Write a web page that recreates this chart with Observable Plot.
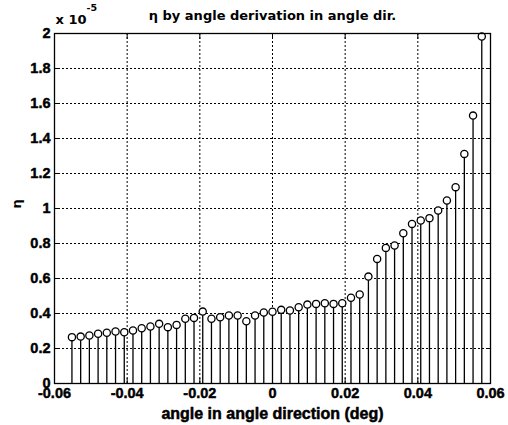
<!DOCTYPE html>
<html><head><meta charset="utf-8">
<script src="https://cdn.jsdelivr.net/npm/d3@7"></script>
<script src="https://cdn.jsdelivr.net/npm/@observablehq/plot@0.6"></script>
<style>
body{margin:0;background:#fff}
#chart svg{background:#fff}
</style>
</head><body><div id="chart"></div>
<script>
// angle in angle direction (deg)
const angles = [-0.0552, -0.0528, -0.0504, -0.0480, -0.0456, -0.0432, -0.0408, -0.0384,
  -0.0360, -0.0336, -0.0312, -0.0288, -0.0264, -0.0240, -0.0216, -0.0192,
  -0.0168, -0.0144, -0.0120, -0.0096, -0.0072, -0.0048, -0.0024, 0.0000,
  0.0024, 0.0048, 0.0072, 0.0096, 0.0120, 0.0144, 0.0168, 0.0192,
  0.0216, 0.0240, 0.0264, 0.0288, 0.0312, 0.0336, 0.0360, 0.0384,
  0.0408, 0.0432, 0.0456, 0.0480, 0.0504, 0.0528, 0.0552, 0.0576];
// eta, in units of 1e-5
const eta = [0.265, 0.268, 0.274, 0.284, 0.290, 0.297, 0.293, 0.303,
  0.316, 0.326, 0.341, 0.322, 0.335, 0.370, 0.375, 0.411,
  0.370, 0.379, 0.389, 0.389, 0.356, 0.389, 0.406, 0.410,
  0.421, 0.417, 0.436, 0.451, 0.455, 0.459, 0.455, 0.459,
  0.490, 0.509, 0.611, 0.712, 0.775, 0.789, 0.859, 0.912,
  0.931, 0.945, 0.989, 1.046, 1.122, 1.312, 1.531, 1.983];
const xTicks = [-0.06, -0.04, -0.02, 0, 0.02, 0.04, 0.06];
const xTickLabels = ["-0.06", "-0.04", "-0.02", "0", "0.02", "0.04", "0.06"];
const yTicks = [0, 0.2, 0.4, 0.6, 0.8, 1, 1.2, 1.4, 1.6, 1.8, 2];
const yTickLabels = ["0", "0.2", "0.4", "0.6", "0.8", "1", "1.2", "1.4", "1.6", "1.8", "2"];
const titleText = "\u03b7 by angle derivation in angle dir.";
const xLabelText = "angle in angle direction (deg)";
const yLabelText = "\u03b7";
const exponentBase = "x 10";
const exponentText = "-5";

const data = angles.map((a, i) => ({angle: a, eta: eta[i]}));

const tickFont = {fontFamily: "Liberation Sans, Arial, sans-serif", fontWeight: "bold", fontSize: 14.5, fill: "black"};
const labelFont = {fontFamily: "DejaVu Sans, sans-serif", fontWeight: "bold", fill: "black"};

const plot = Plot.plot({
  width: 508,
  height: 425,
  marginLeft: 54,
  marginRight: 18,
  marginTop: 33,
  marginBottom: 42,
  style: {background: "#fff", color: "black"},
  x: {domain: [-0.06, 0.06]},
  y: {domain: [0, 2]},
  marks: [
    Plot.gridX(xTicks.slice(1, -1), {stroke: "black", strokeOpacity: 1, strokeWidth: 1, strokeDasharray: "2,2"}),
    Plot.gridY(yTicks.slice(1, -1), {stroke: "black", strokeOpacity: 1, strokeWidth: 1, strokeDasharray: "2,2"}),
    Plot.ruleX(data, {x: "angle", y1: 0, y2: "eta", stroke: "black", strokeWidth: 1.3}),
    Plot.dot(data, {x: "angle", y: "eta", r: 3.6, stroke: "black", fill: "white", strokeWidth: 1.3}),
    Plot.frame({stroke: "black", strokeWidth: 1.3}),
    Plot.axisX(xTicks, {anchor: "bottom", tickSize: -5, tickPadding: 9, label: null,
      tickFormat: (d, i) => xTickLabels[i], ...tickFont}),
    Plot.axisX(xTicks, {anchor: "top", tickSize: -5, label: null, tickFormat: () => ""}),
    Plot.axisY(yTicks, {anchor: "left", tickSize: -5, tickPadding: 9, label: null,
      tickFormat: (d, i) => yTickLabels[i], ...tickFont}),
    Plot.axisY(yTicks, {anchor: "right", tickSize: -5, label: null, tickFormat: () => ""}),
    Plot.text([titleText], {text: d => d, frameAnchor: "top", lineAnchor: "middle", dy: -18, fontSize: 13, ...labelFont}),
    Plot.text([exponentBase], {text: d => d, frameAnchor: "top-left", textAnchor: "start", lineAnchor: "middle", dx: 1, dy: -14, fontSize: 13, ...labelFont}),
    Plot.text([exponentText], {text: d => d, frameAnchor: "top-left", textAnchor: "start", lineAnchor: "middle", dx: 32, dy: -26, fontSize: 9.5, ...labelFont}),
    Plot.text([xLabelText], {text: d => d, frameAnchor: "bottom", lineAnchor: "top", dy: 24, fontSize: 16,
      fontFamily: "Liberation Sans, Arial, sans-serif", fontWeight: "bold", fill: "black",
      stroke: "black", strokeWidth: 0.5}),
    Plot.text([yLabelText], {text: d => d, frameAnchor: "left", rotate: -90, lineAnchor: "middle", dx: -38, fontSize: 13, ...labelFont})
  ]
});
// thicken tick label glyphs slightly, like the heavy print of the reference
plot.querySelectorAll('g[aria-label$="tick label"]').forEach(g => {
  g.setAttribute("stroke", "black");
  g.setAttribute("stroke-width", "0.45");
});
document.getElementById("chart").appendChild(plot);
</script>
</body></html>
